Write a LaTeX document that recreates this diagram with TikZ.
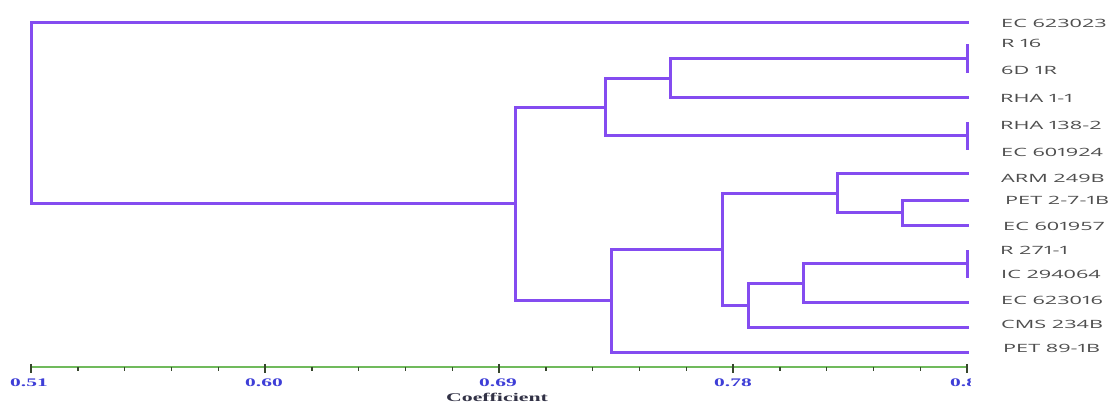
\documentclass[tikz,border=0pt]{standalone}
\usepackage{fontspec}
\usetikzlibrary{calc}
\setmainfont{Liberation Serif}
\newfontfamily\leaffont[FakeStretch=1.9,Numbers=Proportional]{Open Sans}
\newfontfamily\axisfont[FakeStretch=1.85]{Liberation Serif}

\definecolor{branch}{RGB}{132,76,240}
\definecolor{axisgreen}{RGB}{112,186,92}
\definecolor{tickdark}{RGB}{55,70,45}
\definecolor{ticklabel}{RGB}{62,62,215}
\definecolor{coefgray}{RGB}{50,50,70}
\definecolor{leafgray}{RGB}{78,78,78}

\tikzset{
  branchline/.style={draw=branch,line width=3pt,line join=miter,line cap=rect},
  leaflabel/.style={anchor=west,inner sep=0pt,text=leafgray,font=\leaffont\fontsize{11.4}{12}\selectfont},
  ticklab/.style={anchor=center,inner sep=0pt,text=ticklabel,font=\axisfont\bfseries\fontsize{11.6}{12}\selectfont},
  axisline/.style={draw=axisgreen,line width=1.6pt},
  minortick/.style={draw=tickdark,line width=1.4pt},
  majortick/.style={draw=tickdark,line width=1.6pt},
}

\begin{document}
\begin{tikzpicture}[x=1pt,y=-1pt]
\useasboundingbox[fill=white] (0,0) rectangle (1112,403);

% leaf ends (all at coefficient 0.87)
\coordinate (L1)  at (967,23);
\coordinate (L2)  at (967,46);
\coordinate (L3)  at (967,72);
\coordinate (L4)  at (967,98);
\coordinate (L5)  at (967,124);
\coordinate (L6)  at (967,149);
\coordinate (L7)  at (967,174);
\coordinate (L8)  at (967,201);
\coordinate (L9)  at (967,226);
\coordinate (L10) at (967,252);
\coordinate (L11) at (967,277);
\coordinate (L12) at (967,303);
\coordinate (L13) at (967,328);
\coordinate (L14) at (967,353);

% merge points
\coordinate (na) at (967,59);
\coordinate (nb) at (670,79);
\coordinate (nc) at (967,136);
\coordinate (nd) at (605,108);
\coordinate (ne) at (902,213);
\coordinate (nf) at (837,194);
\coordinate (ng) at (967,264);
\coordinate (nh) at (803,284);
\coordinate (ni) at (748,306);
\coordinate (nj) at (722,250);
\coordinate (nk) at (611,301);
\coordinate (nl) at (515,204);
\coordinate (root) at (31,114);

% branches
\path[branchline] (L2) -| (na) |- (L3);
\path[branchline] (na) -| (nb) |- (L4);
\path[branchline] (L5) -| (nc) |- (L6);
\path[branchline] (nb) -| (nd) |- (nc);
\path[branchline] (L8) -| (ne) |- (L9);
\path[branchline] (L7) -| (nf) |- (ne);
\path[branchline] (L10) -| (ng) |- (L11);
\path[branchline] (ng) -| (nh) |- (L12);
\path[branchline] (nh) -| (ni) |- (L13);
\path[branchline] (nf) -| (nj) |- (ni);
\path[branchline] (nj) -| (nk) |- (L14);
\path[branchline] (nd) -| (nl) |- (nk);
\path[branchline] (L1) -| (root) |- (nl);

% accession labels
\node[leaflabel] (t1)  at (1001,23)  {EC 623023};
\node[leaflabel] (t2)  at (1001,43)  {R 16};
\node[leaflabel] (t3)  at (1001,70)  {6D 1R};
\node[leaflabel] (t4)  at (1000,98)  {RHA 1-1};
\node[leaflabel] (t5)  at (1000,125) {RHA 138-2};
\node[leaflabel] (t6)  at (1001,152) {EC 601924};
\node[leaflabel] (t7)  at (1001,178) {ARM 249B};
\node[leaflabel] (t8)  at (1005,200) {PET 2-7-1B};
\node[leaflabel] (t9)  at (1003,226) {EC 601957};
\node[leaflabel] (t10) at (1000,250) {R 271-1};
\node[leaflabel] (t11) at (1001,274) {IC 294064};
\node[leaflabel] (t12) at (1001,300) {EC 623016};
\node[leaflabel] (t13) at (1001,324) {CMS 234B};
\node[leaflabel] (t14) at (1003,348) {PET 89-1B};

% coefficient axis
\coordinate (ax0) at (31,367);
\coordinate (ax1) at (967,367);
\path[axisline] (ax0) -- (ax1);
\foreach \k in {1,2,3,4,6,7,8,9,11,12,13,14,16,17,18,19}{
  \path[minortick] ($(ax0)+(\k*46.8,0)$) -- ++(0,4);
}
\foreach \k in {0,5,10,15,20}{
  \path[majortick] ($(ax0)+(\k*46.8,-3)$) -- ++(0,9);
}
\node[ticklab] (c1) at (29,383)  {0.51};
\node[ticklab] (c2) at (264,383) {0.60};
\node[ticklab] (c3) at (498,383) {0.69};
\node[ticklab] (c4) at (733,383) {0.78};
\begin{scope}
  \clip (940,374) rectangle (970,392);
  \node[ticklab] (c5) at (969,383) {0.87};
\end{scope}
\node[ticklab,text=coefgray,font=\axisfont\bfseries\fontsize{11.8}{12}\selectfont] (coef) at (497,397) {Coefficient};
\end{tikzpicture}
\end{document}
